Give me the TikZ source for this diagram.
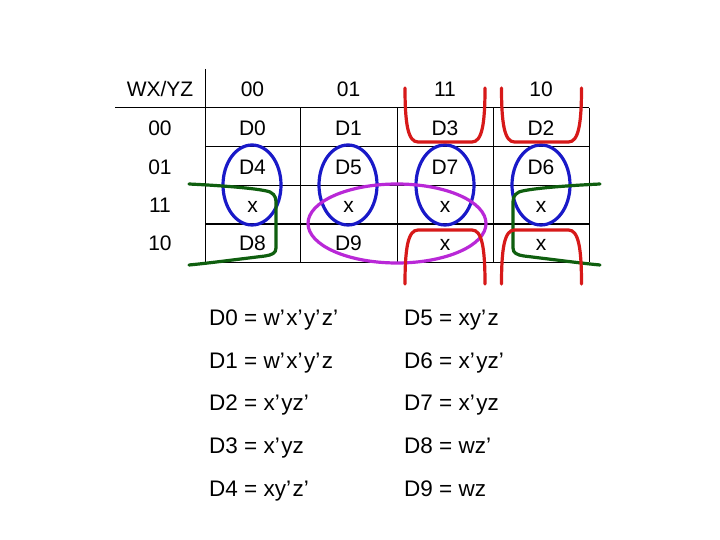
\documentclass[tikz,border=0pt]{standalone}
\usepackage{fontspec}
\setmainfont{Liberation Sans}
\newcommand\ap{’\kern1.5pt}
\begin{document}
\begin{tikzpicture}[x=1pt,y=-1pt,
  gridline/.style={line width=1pt,black},
  thickgrid/.style={line width=1.8pt,black},
  cell/.style={anchor=base,inner sep=0pt,font=\fontsize{21}{25}\selectfont},
  formula/.style={anchor=base west,inner sep=0pt,font=\fontsize{22.5}{27}\selectfont},
  loop/.style={line width=3.2pt,line cap=round},
]
\definecolor{lred}{RGB}{215,25,25}
\definecolor{lblue}{RGB}{25,25,200}
\definecolor{lgreen}{RGB}{15,95,15}
\definecolor{lmag}{RGB}{185,40,215}
\useasboundingbox (0,0) rectangle (720,540);
\fill[white] (0,0) rectangle (720,540);

% grid
\draw[gridline] (205,69) -- (205,262);
\draw[gridline] (115,108) -- (589,108);
\foreach \x in {300,397,493,589} \draw[gridline] (\x,108) -- (\x,262);
\foreach \y in {147,186,262} \draw[gridline] (205,\y) -- (589,\y);
\draw[thickgrid] (205,224) -- (589,224);

% headers
\node[cell] (hcorner) at (160,97) {WX/YZ};
\node[cell] (h00) at (252.5,97) {00};
\node[cell] (h01) at (348.5,97) {01};
\node[cell] (h11) at (445,97) {11};
\node[cell] (h10) at (541,97) {10};
\node[cell] (r00) at (160,136) {00};
\node[cell] (r01) at (160,174.5) {01};
\node[cell] (r11) at (160,213) {11};
\node[cell] (r10) at (160,251) {10};

% cells
\node[cell] (c0) at (252.5,136) {D0};
\node[cell] (c1) at (348.5,136) {D1};
\node[cell] (c3) at (445,136) {D3};
\node[cell] (c2) at (541,136) {D2};
\node[cell] (c4) at (252.5,174.5) {D4};
\node[cell] (c5) at (348.5,174.5) {D5};
\node[cell] (c7) at (445,174.5) {D7};
\node[cell] (c6) at (541,174.5) {D6};
\node[cell] (c12) at (252.5,213) {x};
\node[cell] (c13) at (348.5,213) {x};
\node[cell] (c15) at (445,213) {x};
\node[cell] (c14) at (541,213) {x};
\node[cell] (c8) at (252.5,251) {D8};
\node[cell] (c9) at (348.5,251) {D9};
\node[cell] (c11) at (445,251) {x};
\node[cell] (c10) at (541,251) {x};

% blue loops
\foreach \x in {252,348,445,541}
  \draw[loop,lblue] (\x,185) ellipse [x radius=29pt, y radius=40pt];

% magenta loop
\draw[loop,lmag] (397,223.5) ellipse [x radius=89pt, y radius=39.5pt];

% green loops
\draw[loop,lgreen] (189,184) .. controls (230,186) and (262,189) .. (270,192)
  .. controls (276,195) and (276,199) .. (276,205) -- (276,248)
  .. controls (276,253) and (272,255) .. (265,256)
  .. controls (240,259) and (210,263) .. (189,265);
\draw[loop,lgreen] (600,184) .. controls (559,186) and (527,189) .. (519,192)
  .. controls (513,195) and (513,199) .. (513,205) -- (513,248)
  .. controls (513,253) and (517,255) .. (524,256)
  .. controls (549,259) and (579,263) .. (600,265);

% red loops
\foreach \dx in {0,96.5} {
  \draw[loop,lred] (405+\dx,88) .. controls (405+\dx,124) and (408+\dx,142) .. (418+\dx,142)
    -- (472+\dx,142) .. controls (482+\dx,142) and (485+\dx,124) .. (485+\dx,88);
  \draw[loop,lred] (405+\dx,284) .. controls (405+\dx,248) and (408+\dx,230) .. (418+\dx,230)
    -- (472+\dx,230) .. controls (482+\dx,230) and (485+\dx,248) .. (485+\dx,284);
}

% formulas
\node[formula] (f0) at (209,325) {D0 = w\ap x\ap y\ap z\ap};
\node[formula] (f1) at (209,368) {D1 = w\ap x\ap y\ap z};
\node[formula] (f2) at (209,410.5) {D2 = x\ap yz\ap};
\node[formula] (f3) at (209,453) {D3 = x\ap yz};
\node[formula] (f4) at (209,496) {D4 = xy\ap z\ap};
\node[formula] (f5) at (404,325) {D5 = xy\ap z};
\node[formula] (f6) at (404,368) {D6 = x\ap yz\ap};
\node[formula] (f7) at (404,410.5) {D7 = x\ap yz};
\node[formula] (f8) at (404,453) {D8 = wz\ap};
\node[formula] (f9) at (404,496) {D9 = wz};
\end{tikzpicture}
\end{document}
